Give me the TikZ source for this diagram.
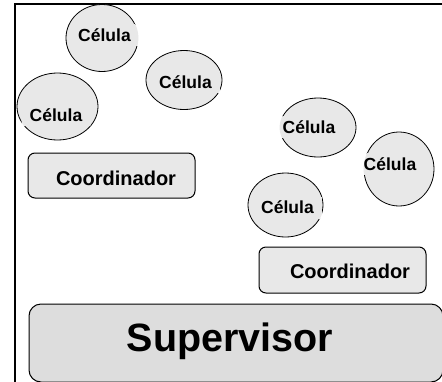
\documentclass[tikz,border=0pt]{standalone}
\usepackage{fontspec}
\setmainfont{Liberation Sans}
\usetikzlibrary{shapes,positioning,calc}
\definecolor{cellgray}{HTML}{E8E8E8}
\definecolor{supgray}{HTML}{DDDDDD}
\tikzset{
	cell/.style={ellipse,draw,fill=cellgray,line width=0.8pt,inner sep=0pt},
	celltext/.style={fill=white,inner xsep=8pt,inner ysep=4pt,font=\fontsize{17.5}{20}\bfseries\selectfont,
		path picture={\fill[cellgray] let \p1=(#1.east),\p2=(#1.north),\p3=(#1.center) in (\p3) ellipse ({\x1-\x3} and {\y2-\y3});}},
	coordbox/.style={draw,fill=cellgray,rounded corners=7pt,line width=1pt,inner sep=0pt},
	supbox/.style={draw,fill=supgray,rounded corners=12pt,line width=1pt,inner sep=0pt},
	boxtext/.style={inner sep=0pt,font=\fontsize{20}{24}\bfseries\selectfont},
	suptext/.style={inner sep=0pt,font=\fontsize{39.5}{44}\bfseries\selectfont}
}

\begin{document}
\begin{tikzpicture}[x=1pt,y=-1pt]
		\useasboundingbox (0,0) rectangle (442,381);
		\clip (0,0) rectangle (442,381);
		%%%frame
		\draw[line width=2pt] (15,4) rectangle (470,420);
		
		%%%cells
		\node[cell,minimum width=72,minimum height=67] (c1) at (102,38) {};
		\node[cell,minimum width=76,minimum height=59] (c2) at (184,80) {};
		\node[cell,minimum width=81,minimum height=67] (c3) at (57.5,106.5) {};
		\node[cell,minimum width=76,minimum height=59] (c4) at (318,127.5) {};
		\node[cell,minimum width=70,minimum height=74] (c5) at (399,169) {};
		\node[cell,minimum width=75,minimum height=64] (c6) at (285.5,205) {};
		
		\node[celltext=c1] (t1) at (104.5,35) {Célula};
		\node[celltext=c2] (t2) at (185.5,82) {Célula};
		\node[celltext=c3] (t3) at (56,115) {Célula};
		\node[celltext=c4] (t4) at (309,127) {Célula};
		\node[celltext=c5] (t5) at (390,164) {Célula};
		\node[celltext=c6] (t6) at (287.5,207.5) {Célula};
		
		%%%coordinators and supervisor
		\node[coordbox,minimum width=167,minimum height=45] (k1) at (111.5,175.5) {};
		\node[boxtext] (k1t) at (116,178) {Coordinador};
		\node[coordbox,minimum width=167,minimum height=46] (k2) at (342.5,270) {};
		\node[boxtext] (k2t) at (350,271) {Coordinador};
		
		\node[supbox,minimum width=414,minimum height=78] (sup) at (236,343) {};
		\node[suptext] (supt) at (230,341) {Supervisor};
	\end{tikzpicture}
\end{document}
